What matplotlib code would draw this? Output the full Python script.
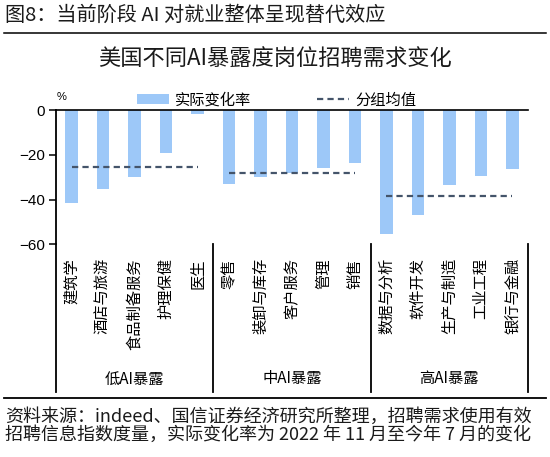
import numpy as np
import matplotlib
matplotlib.use("Agg")
import matplotlib.pyplot as plt
from matplotlib.lines import Line2D

plt.rcParams['font.family'] = ['Noto Sans CJK SC', 'DejaVu Sans']
plt.rcParams['axes.unicode_minus'] = True
plt.rcParams['lines.scale_dashes'] = False

# data
jobs_low = ['建筑学', '酒店与旅游', '食品制备服务', '护理保健', '医生']
jobs_mid = ['零售', '装卸与库存', '客户服务', '管理', '销售']
jobs_high = ['数据与分析', '软件开发', '生产与制造', '工业工程', '银行与金融']
change_low = [-41.5, -35.4, -30.0, -19.0, -1.8]
change_mid = [-33.2, -30.0, -28.0, -25.8, -23.6]
change_high = [-55.6, -47.0, -33.3, -29.7, -26.5]
groups = ['低AI暴露', '中AI暴露', '高AI暴露']
group_means = [-25.5, -28.2, -38.5]
yticks = [0, -20, -40, -60]

bar_color = '#9DC8F8'
mean_color = '#44546A'

W, H = 550, 457
fig = plt.figure(figsize=(W / 100, H / 100), dpi=100)

def fx(px):
    return px / W

def fy(py):
    return 1 - py / H

ax_top, ax_bot = 110, 244.3
ax = fig.add_axes([fx(56), fy(ax_bot), fx(528) - fx(56), fy(ax_top) - fy(ax_bot)])

jobs = jobs_low + jobs_mid + jobs_high
values = change_low + change_mid + change_high
x = np.arange(len(jobs))

bars = ax.bar(x, values, width=0.4, color=bar_color, label='实际变化率', zorder=2)

n = len(jobs_low)
for g, m in enumerate(group_means):
    line, = ax.plot([g * n, g * n + n - 1], [m, m], color=mean_color, lw=1.6,
                    dashes=(4.5, 3), zorder=3)
line.set_label('分组均值')

ax.set_xlim(-0.5, len(jobs) - 0.5)
ax.set_ylim(-60, 0)
ax.set_yticks(yticks)
ax.set_yticklabels([str(v).replace('-', '\u2212') for v in yticks],
                   family='Liberation Sans', fontsize=11)
ax.tick_params(axis='y', direction='out', length=5, width=1.1, pad=3)

ax.set_xticks(x)
ax.set_xticklabels(jobs, rotation=90, fontsize=11, va='top', ha='center')
ax.xaxis.set_ticks_position('bottom')
ax.tick_params(axis='x', length=0, pad=10)

for s in ['right', 'bottom']:
    ax.spines[s].set_visible(False)
ax.spines['top'].set_linewidth(1.2)
ax.spines['left'].set_linewidth(1.3)

# group box lines below the plot area
yb = (ax_bot - 392) / (ax_bot - ax_top)
tr = ax.get_xaxis_transform()
for xb in [-0.5, 4.5, 9.5, 14.5]:
    ax.plot([xb, xb], [0, yb], color='black', lw=1.3, transform=tr, clip_on=False)

yg = (ax_bot - 379) / (ax_bot - ax_top)
for g, name in enumerate(groups):
    ax.text(g * n + (n - 1) / 2, yg, name, transform=tr, ha='center', va='center',
            fontsize=11)

ax.text(fx(57), fy(97), '%', transform=fig.transFigure, fontsize=8,
        family='Liberation Sans', ha='left', va='center')

ax.legend(handles=[bars, line], ncol=2, frameon=False, fontsize=11,
          loc='center left', bbox_to_anchor=(fx(137), fy(100)),
          bbox_transform=fig.transFigure, borderpad=0, borderaxespad=0,
          handlelength=2.1, handleheight=0.6, handletextpad=0.4, columnspacing=4.3)

# headings and footnote
fig.text(fx(5), fy(15), '图8：当前阶段 AI 对就业整体呈现替代效应', fontsize=14.5,
         ha='left', va='center', color='#1a1a1a')
fig.add_artist(Line2D([fx(4), fx(546)], [fy(32.5), fy(32.5)], color='black', lw=1.1))
fig.text(0.5, fy(58), '美国不同AI暴露度岗位招聘需求变化', fontsize=16,
         ha='center', va='center', color='#1a1a1a')
fig.add_artist(Line2D([fx(4), fx(546)], [fy(398), fy(398)], color='black', lw=1.3))
fig.text(fx(5), fy(416.5), '资料来源：indeed、国信证券经济研究所整理，招聘需求使用有效',
         fontsize=13, ha='left', va='center', color='#1a1a1a')
fig.text(fx(5), fy(435), '招聘信息指数度量，实际变化率为 2022 年 11 月至今年 7 月的变化',
         fontsize=13, ha='left', va='center', color='#1a1a1a')

fig.savefig('out.png', dpi=100)
